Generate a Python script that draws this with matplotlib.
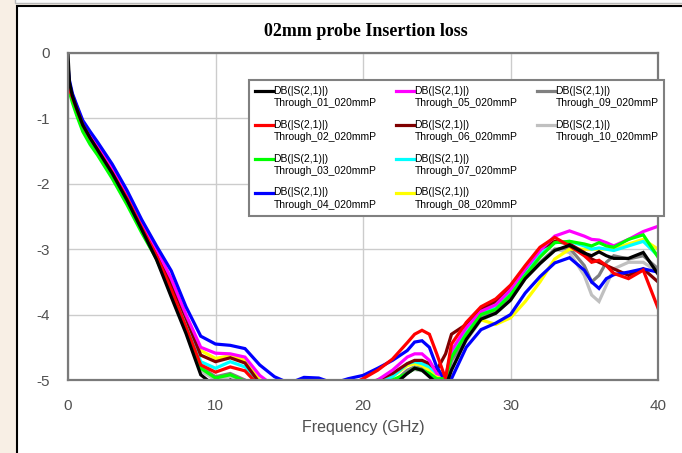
from __future__ import annotations

import matplotlib

matplotlib.use("Agg")

import matplotlib.pyplot as plt
import numpy as np
from matplotlib.legend_handler import HandlerLine2D
from matplotlib.lines import Line2D
from matplotlib.patches import Rectangle

FREQ_GHZ = [0, 0.1, 0.3, 0.6, 1, 1.5, 2, 3, 4, 5,
            6, 7, 8, 9, 10, 11, 12, 13, 14, 15,
            16, 17, 18, 19, 20, 21, 22, 23, 23.5, 24,
            24.5, 25, 25.6, 26, 27, 28, 29, 30, 31, 32,
            33, 34, 35, 35.5, 36, 36.5, 37, 38, 39, 40]

THROUGH_01 = [-0.02, -0.45, -0.66, -0.86, -1.10, -1.30, -1.48, -1.84, -2.25, -2.70,
              -3.16, -3.73, -4.29, -4.92, -5.10, -5.00, -5.10, -5.30, -5.40, -5.50,
              -5.50, -5.50, -5.50, -5.40, -5.30, -5.20, -5.10, -4.90, -4.82, -4.85,
              -4.95, -5.05, -5.10, -4.85, -4.38, -4.07, -3.98, -3.78, -3.45, -3.22,
              -3.02, -2.94, -3.06, -3.10, -3.04, -3.10, -3.14, -3.14, -3.05, -3.38]
THROUGH_02 = [-0.50, -0.55, -0.68, -0.86, -1.10, -1.30, -1.47, -1.83, -2.22, -2.67,
              -3.10, -3.62, -4.19, -4.77, -4.88, -4.80, -4.86, -5.10, -5.25, -5.30,
              -5.30, -5.30, -5.20, -5.10, -4.98, -4.85, -4.68, -4.43, -4.30, -4.24,
              -4.30, -4.60, -4.98, -4.45, -4.12, -3.88, -3.76, -3.55, -3.25, -2.97,
              -2.82, -2.95, -3.10, -3.20, -3.17, -3.25, -3.37, -3.45, -3.32, -3.90]
THROUGH_03 = [-0.55, -0.60, -0.76, -0.96, -1.20, -1.40, -1.56, -1.92, -2.32, -2.75,
              -3.15, -3.66, -4.22, -4.82, -4.97, -4.92, -5.02, -5.20, -5.40, -5.40,
              -5.40, -5.40, -5.40, -5.30, -5.20, -5.10, -5.00, -4.90, -4.82, -4.85,
              -4.90, -4.98, -4.98, -4.65, -4.30, -4.00, -3.92, -3.70, -3.40, -3.12,
              -2.90, -2.88, -2.92, -2.95, -2.90, -2.95, -2.97, -2.85, -2.78, -3.12]
THROUGH_04 = [-0.20, -0.42, -0.62, -0.80, -1.03, -1.20, -1.36, -1.70, -2.10, -2.55,
              -2.95, -3.33, -3.88, -4.33, -4.45, -4.47, -4.52, -4.77, -4.95, -5.05,
              -4.96, -4.97, -5.05, -4.98, -4.93, -4.82, -4.70, -4.55, -4.42, -4.40,
              -4.50, -4.80, -5.02, -4.98, -4.50, -4.23, -4.13, -4.00, -3.67, -3.42,
              -3.21, -3.13, -3.32, -3.50, -3.60, -3.45, -3.39, -3.35, -3.30, -3.35]
THROUGH_05 = [-0.45, -0.50, -0.64, -0.82, -1.06, -1.25, -1.42, -1.76, -2.16, -2.60,
              -3.00, -3.45, -4.00, -4.50, -4.59, -4.60, -4.65, -4.93, -5.10, -5.20,
              -5.20, -5.20, -5.15, -5.10, -5.05, -5.00, -4.85, -4.65, -4.60, -4.60,
              -4.70, -4.90, -4.95, -4.55, -4.20, -3.95, -3.85, -3.62, -3.30, -3.02,
              -2.80, -2.72, -2.80, -2.85, -2.86, -2.90, -2.95, -2.85, -2.73, -2.65]
THROUGH_06 = [-0.48, -0.52, -0.66, -0.84, -1.08, -1.27, -1.44, -1.79, -2.19, -2.63,
              -3.04, -3.52, -4.05, -4.62, -4.72, -4.66, -4.74, -5.05, -5.20, -5.30,
              -5.30, -5.30, -5.25, -5.20, -5.10, -5.00, -4.90, -4.75, -4.70, -4.70,
              -4.75, -4.85, -4.60, -4.30, -4.15, -3.92, -3.80, -3.60, -3.30, -3.00,
              -2.88, -2.92, -3.05, -3.15, -3.20, -3.25, -3.30, -3.40, -3.30, -3.50]
THROUGH_07 = [-0.50, -0.54, -0.68, -0.86, -1.10, -1.29, -1.46, -1.81, -2.21, -2.65,
              -3.06, -3.56, -4.10, -4.72, -4.82, -4.72, -4.80, -5.05, -5.25, -5.35,
              -5.35, -5.35, -5.30, -5.20, -5.10, -5.05, -4.95, -4.75, -4.72, -4.75,
              -4.80, -4.90, -4.95, -4.60, -4.25, -3.98, -3.88, -3.65, -3.35, -3.08,
              -2.90, -2.88, -2.95, -3.00, -2.98, -3.00, -3.02, -2.95, -2.88, -3.10]
THROUGH_08 = [-0.47, -0.51, -0.65, -0.83, -1.07, -1.26, -1.43, -1.78, -2.18, -2.62,
              -3.02, -3.50, -4.03, -4.55, -4.67, -4.63, -4.70, -5.00, -5.15, -5.25,
              -5.25, -5.25, -5.20, -5.15, -5.10, -5.05, -4.95, -4.78, -4.75, -4.78,
              -4.85, -4.95, -4.97, -4.62, -4.30, -4.08, -4.15, -4.05, -3.80, -3.50,
              -3.15, -3.00, -3.00, -3.00, -3.00, -3.00, -3.00, -2.92, -2.85, -3.00]
THROUGH_09 = [-0.50, -0.56, -0.70, -0.88, -1.12, -1.32, -1.50, -1.86, -2.26, -2.70,
              -3.12, -3.64, -4.18, -4.80, -4.95, -4.90, -5.00, -5.20, -5.40, -5.45,
              -5.45, -5.45, -5.45, -5.35, -5.25, -5.15, -5.05, -4.85, -4.80, -4.82,
              -4.90, -5.00, -5.05, -4.70, -4.35, -4.05, -3.95, -3.75, -3.42, -3.20,
              -3.00, -2.98, -3.25, -3.50, -3.40, -3.20, -3.10, -3.15, -3.10, -3.30]
THROUGH_10 = [-0.50, -0.56, -0.70, -0.88, -1.12, -1.32, -1.50, -1.86, -2.27, -2.71,
              -3.13, -3.66, -4.22, -4.86, -5.00, -4.95, -5.05, -5.25, -5.45, -5.50,
              -5.50, -5.50, -5.50, -5.40, -5.30, -5.20, -5.10, -4.88, -4.84, -4.86,
              -4.92, -5.02, -5.08, -4.75, -4.40, -4.08, -3.98, -3.78, -3.45, -3.22,
              -3.00, -3.05, -3.40, -3.70, -3.80, -3.55, -3.30, -3.20, -3.20, -3.35]

SERIES = [THROUGH_01, THROUGH_02, THROUGH_03, THROUGH_04, THROUGH_05,
          THROUGH_06, THROUGH_07, THROUGH_08, THROUGH_09, THROUGH_10]
SERIES_NAMES = [f"Through_{i:02d}_020mmP" for i in range(1, 11)]
SERIES_COLORS = ["#000000", "#ff0000", "#00ff00", "#0000ff", "#ff00ff",
                 "#800000", "#00ffff", "#ffff00", "#808080", "#c0c0c0"]
TRACE_LABEL = "DB(|S(2,1)|)"

X_TICKS = [0, 10, 20, 30, 40]
Y_TICKS = [-5, -4, -3, -2, -1, 0]

TEXT_GRAY = "#505050"
FRAME_GRAY = "#7a7a7a"
GRID_GRAY = "#cccccc"


class FirstLineHandler(HandlerLine2D):
    """Put the legend swatch beside the first line of a two-line label."""

    def __init__(self, lift: float, **kwargs):
        super().__init__(**kwargs)
        self.lift = lift

    def create_artists(self, legend, orig_handle, xdescent, ydescent, width, height, fontsize, trans):
        artists = super().create_artists(legend, orig_handle, xdescent, ydescent, width, height, fontsize, trans)
        for artist in artists:
            artist.set_ydata(np.asarray(artist.get_ydata(), dtype=float) + self.lift * fontsize)
        return artists


def draw_window(fig):
    # beige host window with the white plot page framed in black
    fig.patch.set_facecolor("#f8efe5")
    fig.add_artist(Rectangle((15 / 682, 1 - 3 / 453), 1.0, 0.1, transform=fig.transFigure,
                             facecolor="#fbfbfb", edgecolor="#b8b8b8", linewidth=1.0, zorder=0))
    fig.add_artist(Rectangle((17 / 682, -0.05), 1.0, 1.05 - 6 / 453, transform=fig.transFigure,
                             facecolor="white", edgecolor="black", linewidth=1.5, zorder=0))


def main() -> int:
    plt.rcParams["axes.unicode_minus"] = False
    plt.rcParams["font.family"] = ["Liberation Sans", "DejaVu Sans"]

    fig = plt.figure(figsize=(6.82, 4.53), dpi=100)
    draw_window(fig)

    ax = fig.add_axes([68 / 682, 73 / 453, 590 / 682, 327 / 453])
    ax.set_zorder(2)

    lines = {}
    # last trace first so Through_01 ends up on top, as in the reference
    for name, values, color in reversed(list(zip(SERIES_NAMES, SERIES, SERIES_COLORS))):
        (line,) = ax.plot(FREQ_GHZ, values, color=color, linewidth=2.3,
                          label=f"{TRACE_LABEL}\n{name}", solid_joinstyle="miter")
        lines[name] = line

    ax.set_xlim(0, 40)
    ax.set_ylim(-5, 0)
    ax.set_xticks(X_TICKS)
    ax.set_yticks(Y_TICKS)
    ax.grid(True, color=GRID_GRAY, linewidth=1.0)
    ax.set_axisbelow(True)
    ax.tick_params(axis="both", length=0, labelsize=11, labelcolor=TEXT_GRAY)
    ax.tick_params(axis="x", pad=13.5)
    ax.tick_params(axis="y", pad=13.3)
    for spine in ax.spines.values():
        spine.set_color(FRAME_GRAY)
        spine.set_linewidth(1.6)
    ax.set_xlabel("Frequency (GHz)", fontsize=11.5, color=TEXT_GRAY, labelpad=5.5)

    fig.text(365.7 / 682, 1 - 36 / 453, "02mm probe Insertion loss", ha="center", va="baseline",
             fontsize=13, fontweight="bold", family=["Liberation Serif", "DejaVu Serif"])

    # 3 columns of 4 rows, column-major; two blank slots fill the last column
    handles = [lines[name] for name in SERIES_NAMES]
    handles += [Line2D([], [], color="none"), Line2D([], [], color="none")]
    labels = [h.get_label() for h in handles[:10]] + ["", ""]
    legend = ax.legend(handles, labels, ncol=3, loc="upper left", bbox_to_anchor=(0.3068, 0.917),
                       borderaxespad=0, fontsize=7.5, handlelength=1.75, handletextpad=0.05,
                       columnspacing=1.85, labelspacing=1.1, borderpad=0.55, fancybox=False,
                       framealpha=1, edgecolor="#808080", handler_map={Line2D: FirstLineHandler(0.62)})
    legend.get_frame().set_linewidth(1.5)
    for text in legend.get_texts():
        text.set_linespacing(1.3)
    legend.set_zorder(5)

    fig.savefig("out.png", dpi=100, facecolor=fig.get_facecolor())
    return 0


if __name__ == "__main__":
    raise SystemExit(main())
